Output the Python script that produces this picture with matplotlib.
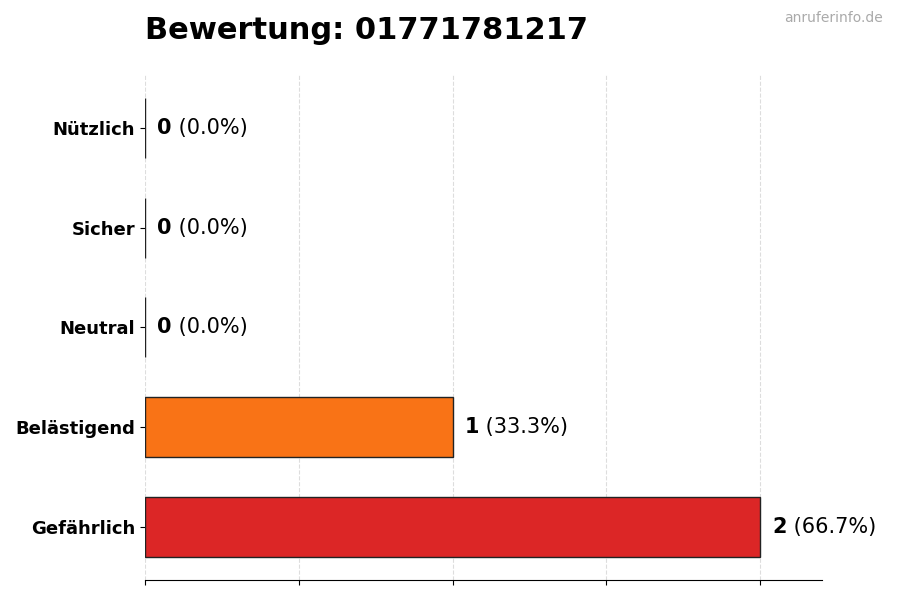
import numpy as np
import matplotlib.pyplot as plt

# Bewertungen, von unten nach oben
kategorien = ["Gefährlich", "Belästigend", "Neutral", "Sicher", "Nützlich"]
anzahl = [2, 1, 0, 0, 0]
farben = ["#DC2626", "#F97316", "#9CA3AF", "#3B82F6", "#22C55E"]
nummer = "01771781217"

gesamt = sum(anzahl)
prozent = [100.0 * a / gesamt if gesamt else 0.0 for a in anzahl]

plt.rcParams['font.family'] = ['DejaVu Sans']

fig = plt.figure(figsize=(9, 6), dpi=100)
ax = fig.add_axes([0.161, 0.0333, 0.752, 0.842])

y = np.arange(len(kategorien))
ax.barh(y, anzahl, height=0.6, color=farben, edgecolor="#222222", linewidth=1, zorder=2)

ax.set_yticks(y)
ax.set_yticklabels(kategorien, fontsize=13, fontweight="bold")
ax.set_ylim(-0.53, len(kategorien) - 0.47)
ax.set_xlim(0, 2.2)
ax.set_xticks([0, 0.5, 1, 1.5, 2])
ax.set_xticklabels([])
ax.grid(axis="x", linestyle="--", color="#dddddd", linewidth=0.8, zorder=0)
for s in ["top", "right", "left"]:
    ax.spines[s].set_visible(False)

for yi, a, p in zip(y, anzahl, prozent):
    t = ax.text(a + 0.04, yi, str(a), fontsize=15, fontweight="bold", va="center", ha="left")
    ax.annotate(f" ({p:.1f}%)", xy=(1, 0), xycoords=t, va="bottom", ha="left", fontsize=15)

ax.set_title(f"Bewertung: {nummer}", loc="left", fontsize=22, fontweight="bold", pad=26)
fig.text(0.981, 0.97, "anruferinfo.de", ha="right", va="center", fontsize=10, color="#aaaaaa")

plt.savefig("out.png")
plt.close()
